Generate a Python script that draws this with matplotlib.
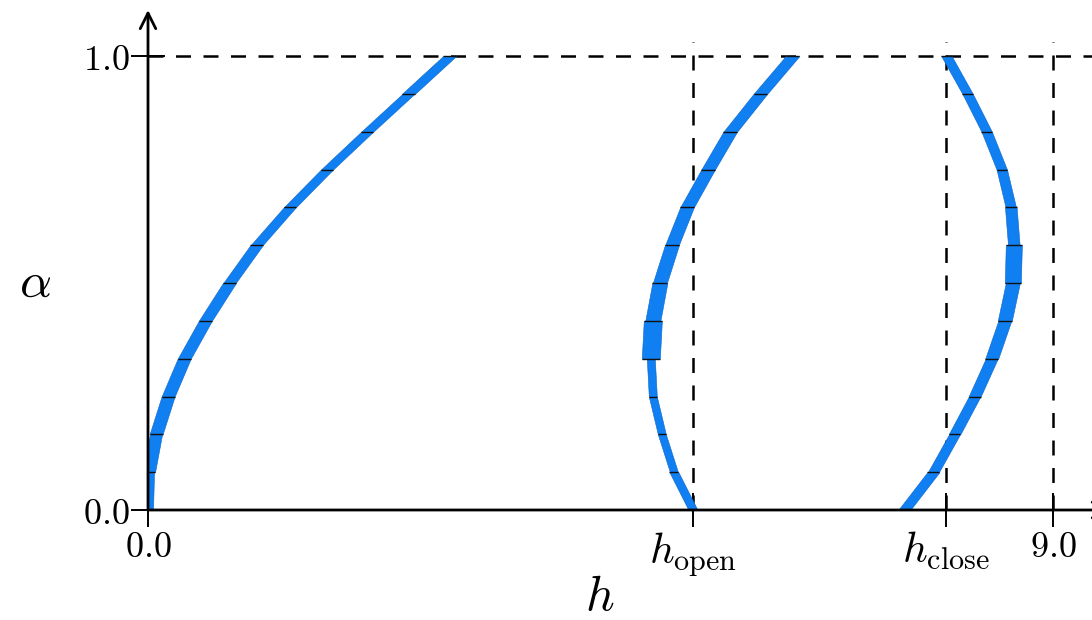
import numpy as np
import matplotlib
matplotlib.use("Agg")
from matplotlib import pyplot as plt

plt.rcParams['mathtext.fontset'] = 'cm'

# sample levels (every 1/12)
alpha = np.arange(13) / 12.0

h_open = 5.42
h_close = 7.94

# curve centres (alpha = 0 .. 1)
h_left = [0.0, 0.01, 0.08, 0.20, 0.36, 0.57, 0.81, 1.08, 1.41, 1.78, 2.18, 2.59, 3.0]
h_mid = [h_open, 5.23, 5.11, 5.02, 5.00, 5.02, 5.09, 5.21, 5.36, 5.57, 5.79, 6.09, 6.41]
h_right = [7.52, 7.81, 8.02, 8.22, 8.39, 8.52, 8.60, 8.61, 8.58, 8.49, 8.34, 8.15, h_close]

# half widths of each segment (between two samples)
w_left = [0.05, 0.06, 0.065, 0.065, 0.065, 0.065, 0.062, 0.06, 0.06, 0.06, 0.06, 0.065]
w_mid = [0.045, 0.04, 0.04, 0.04, 0.09, 0.075, 0.07, 0.068, 0.068, 0.068, 0.068, 0.068]
w_right = [0.06, 0.055, 0.058, 0.06, 0.065, 0.07, 0.08, 0.058, 0.052, 0.052, 0.052, 0.052]

xticks = [0.0, h_open, h_close, 9.0]
xticklabels = [r'$0.0$', r'$h_{\mathrm{open}}$', r'$h_{\mathrm{close}}$', r'$9.0$']
yticks = [0.0, 1.0]
yticklabels = [r'$0.0$', r'$1.0$']

fig = plt.figure(figsize=(10.92, 6.2), dpi=100)
ax = fig.add_axes([148 / 1092, 110 / 620, 1 - 148 / 1092, 500 / 620])
ax.set_xlim(0, 944 / 100.56)
ax.set_ylim(0, 500 / 454)

blue = '#0f7ff2'
edge = '#0d66c8'


def band(hs, ws):
    hs = np.asarray(hs)
    for i in range(len(ws)):
        a = alpha[i:i + 2]
        x = hs[i:i + 2]
        ax.fill_betweenx(a, x - ws[i], x + ws[i], color=blue, ec=edge, lw=0.4, zorder=3)
    # little marks at each sample
    tw = np.array([ws[0]] + [max(ws[i - 1], ws[i]) for i in range(1, len(ws))] + [ws[-1]])
    ax.hlines(alpha, hs - tw, hs + tw, color='#111111', lw=1.0, zorder=4)


band(h_left, w_left)
band(h_mid, w_mid)
band(h_right, w_right)

# guide lines
dash = dict(color='k', lw=1.8, ls=(0, (6, 5)), zorder=2)
ax.axhline(1.0, **dash)
for xv in [h_open, h_close, 9.0]:
    ax.plot([xv, xv], [0, 1.03], **dash)

for s in ax.spines.values():
    s.set_visible(False)
ax.annotate('', xy=(0, 1), xytext=(0, 0), xycoords='axes fraction',
            arrowprops=dict(arrowstyle='->', lw=2, color='k', mutation_scale=28,
                            shrinkA=0, shrinkB=0))
ax.annotate('', xy=(1.02, 0), xytext=(0, 0), xycoords='axes fraction',
            arrowprops=dict(arrowstyle='->', lw=2, color='k', mutation_scale=28,
                            shrinkA=0, shrinkB=0), annotation_clip=False)

ax.set_xticks(xticks)
ax.set_xticklabels(xticklabels)
ax.set_yticks(yticks)
ax.set_yticklabels(yticklabels)
ax.tick_params(direction='inout', length=25, width=1.4, labelsize=26)
ax.tick_params(axis='x', pad=2)
ax.tick_params(axis='y', pad=1)
for lab in ax.get_xticklabels()[1:3]:
    lab.set_fontsize(31)

fig.text(600 / 1092, 1 - 596 / 620, r'$h$', fontsize=36, ha='center', va='center')
fig.text(35 / 1092, 1 - 283 / 620, r'$\alpha$', fontsize=36, ha='center', va='center')

fig.savefig('out.png', dpi=100)
